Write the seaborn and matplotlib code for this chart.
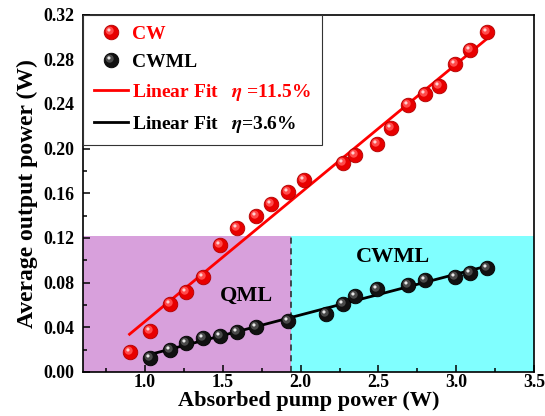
import numpy as np
import matplotlib
matplotlib.use("Agg")
import matplotlib.pyplot as plt
import seaborn as sns
from matplotlib.path import Path
from matplotlib.lines import Line2D
from matplotlib.legend_handler import HandlerTuple

# CW points (absorbed pump power, output power)
cw_x = [0.90, 1.03, 1.16, 1.26, 1.37, 1.48, 1.59, 1.71, 1.81, 1.92, 2.02,
        2.27, 2.35, 2.49, 2.58, 2.69, 2.80, 2.89, 2.99, 3.09, 3.20]
cw_y = [0.018, 0.037, 0.061, 0.072, 0.085, 0.114, 0.129, 0.140, 0.150, 0.161, 0.172,
        0.187, 0.194, 0.204, 0.218, 0.239, 0.249, 0.256, 0.276, 0.288, 0.304]

# CWML points
ml_x = [1.03, 1.16, 1.26, 1.37, 1.48, 1.59, 1.71, 1.92, 2.16, 2.27, 2.35,
        2.49, 2.69, 2.80, 2.99, 3.09, 3.20]
ml_y = [0.0125, 0.020, 0.026, 0.030, 0.032, 0.036, 0.040, 0.046, 0.052, 0.061, 0.068,
        0.074, 0.078, 0.082, 0.085, 0.089, 0.093]

# regime regions
qml_edge = 1.935
region_top = 0.122
x_range = (0.6, 3.5)

plt.rcParams["font.family"] = ["Liberation Serif", "DejaVu Serif"]
plt.rcParams["font.weight"] = "bold"
plt.rcParams["mathtext.fontset"] = "stix"

fig, ax = plt.subplots(figsize=(5.45, 4.16), dpi=100)
fig.subplots_adjust(left=0.152, right=0.980, bottom=0.106, top=0.965)

# shaded regions
ax.fill_between([x_range[0], qml_edge], 0, region_top, color="#d8a0dc", lw=0, zorder=0)
ax.fill_between([qml_edge, x_range[1]], 0, region_top, color="#80ffff", lw=0, zorder=0)
ax.plot([qml_edge, qml_edge], [0, region_top], ls=(0, (4, 3)), color="#222222", lw=1.1, zorder=1)

# linear fits
cw_fit = np.polyfit(cw_x, cw_y, 1)
ml_fit = np.polyfit(ml_x, ml_y, 1)
fx = np.array([min(cw_x), max(cw_x)])
sns.lineplot(x=fx, y=np.polyval(cw_fit, fx), color="red", lw=2, ax=ax, zorder=2)
fx2 = np.array([min(ml_x), max(ml_x)])
sns.lineplot(x=fx2, y=np.polyval(ml_fit, fx2), color="black", lw=2, ax=ax, zorder=2)


def spot(cx, cy, r):
    # circle marker offset inside the ball frame; guard vertices fix the scale
    c = Path.circle((cx, cy), r)
    verts = np.vstack([[[-1, -1], [1, 1]], c.vertices])
    codes = np.concatenate([[Path.MOVETO, Path.MOVETO], c.codes])
    return Path(verts, codes)


ring = spot(-0.25, 0.25, 0.55)
glint = spot(-0.35, 0.35, 0.22)
ball_size = 10.5

layers = {
    "CW": (cw_x, cw_y, ["#e80000", "#ff4a4a", "#ffd0d0"], "#b00000"),
    "CWML": (ml_x, ml_y, ["#111111", "#4a4a4a", "#e8e8e8"], "#000000"),
}
handles = {}
for name, (xs, ys, cols, edge) in layers.items():
    sns.scatterplot(x=xs, y=ys, marker="o", s=ball_size ** 2, color=cols[0],
                    edgecolor=edge, linewidth=0.6, ax=ax, zorder=3)
    sns.scatterplot(x=xs, y=ys, marker=ring, s=ball_size ** 2, color=cols[1],
                    linewidth=0, ax=ax, zorder=4)
    sns.scatterplot(x=xs, y=ys, marker=glint, s=ball_size ** 2, color=cols[2],
                    linewidth=0, ax=ax, zorder=5)
    handles[name] = (
        Line2D([], [], ls="", marker="o", ms=ball_size, mfc=cols[0], mec=edge, mew=0.6),
        Line2D([], [], ls="", marker=ring, ms=ball_size, mfc=cols[1], mec="none"),
        Line2D([], [], ls="", marker=glint, ms=ball_size, mfc=cols[2], mec="none"),
    )

# region labels
ax.text(1.65, 0.068, "QML", fontsize=16, fontweight="bold", ha="center", va="center")
ax.text(2.59, 0.103, "CWML", fontsize=16, fontweight="bold", ha="center", va="center")

leg_handles = [handles["CW"], handles["CWML"],
               Line2D([], [], color="red", lw=2), Line2D([], [], color="black", lw=2)]
leg_labels = ["CW", "CWML", r"Linear Fit   $\eta$ =11.5%", r"Linear Fit   $\eta$=3.6%"]
leg = ax.legend(leg_handles, leg_labels, handler_map={tuple: HandlerTuple(ndivide=1)},
                loc="upper left", bbox_to_anchor=(0, 1), borderaxespad=0,
                fancybox=False, edgecolor="#333333", framealpha=1,
                prop={"size": 14, "weight": "bold"}, handlelength=1.75,
                handletextpad=0.25, labelspacing=0.55, borderpad=0.55)
leg.get_frame().set_linewidth(0.8)
for t, c in zip(leg.get_texts(), ["red", "black", "red", "black"]):
    t.set_color(c)

ax.set_xlim(*x_range)
ax.set_ylim(0, 0.32)
ax.set_xticks([1.0, 1.5, 2.0, 2.5, 3.0, 3.5])
ax.set_xticks(np.arange(0.75, 3.5, 0.5), minor=True)
ax.set_yticks(np.arange(0, 0.321, 0.04))
ax.set_yticks(np.arange(0.02, 0.32, 0.04), minor=True)
ax.yaxis.set_major_formatter(matplotlib.ticker.FormatStrFormatter("%.2f"))
ax.tick_params(which="both", direction="in", labelsize=12.8, width=1.1)
ax.tick_params(which="major", length=5)
ax.tick_params(axis="y", pad=6)
ax.tick_params(axis="x", pad=1.5)
ax.tick_params(which="minor", length=3)
for lab in ax.get_xticklabels() + ax.get_yticklabels():
    lab.set_fontweight("bold")
for sp in ax.spines.values():
    sp.set_linewidth(1.2)

ax.set_xlabel("Absorbed pump power (W)", fontsize=16, fontweight="bold", labelpad=0)
ax.set_ylabel("Average output power (W)", fontsize=17, fontweight="bold", labelpad=4)

fig.savefig("out.png", dpi=100)
